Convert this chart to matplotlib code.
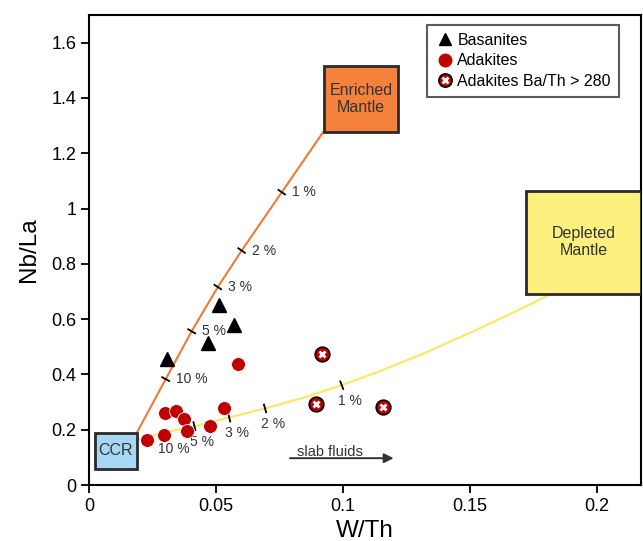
import matplotlib
matplotlib.use("Agg")
import matplotlib.pyplot as plt
from matplotlib.patches import Rectangle
from matplotlib.lines import Line2D
import numpy as np

plt.rcParams['font.family'] = ['Liberation Sans', 'DejaVu Sans']

# Data
bas_x = [0.0308, 0.0513, 0.0571, 0.0467]
bas_y = [0.455, 0.650, 0.578, 0.515]

ada_x = [0.0588, 0.0299, 0.0341, 0.0375, 0.0385, 0.0476, 0.0533, 0.0297, 0.0227]
ada_y = [0.437, 0.261, 0.267, 0.237, 0.197, 0.215, 0.279, 0.180, 0.162]

adx_x = [0.0916, 0.0894, 0.1159]
adx_y = [0.475, 0.292, 0.283]

# Mixing curves
enr_x = [0.019, 0.0302, 0.0404, 0.0507, 0.0601, 0.0759, 0.0923]
enr_y = [0.192, 0.383, 0.556, 0.716, 0.848, 1.059, 1.278]
enr_tick_x = [0.0302, 0.0404, 0.0507, 0.0601, 0.0759]
enr_tick_y = [0.383, 0.556, 0.716, 0.848, 1.059]
enr_labels = ['10 %', '5 %', '3 %', '2 %', '1 %']

dep_x = [0.019, 0.0297, 0.0415, 0.0552, 0.0693, 0.0845, 0.0995, 0.1146, 0.1316, 0.1513, 0.1684, 0.1828]
dep_y = [0.165, 0.190, 0.213, 0.244, 0.277, 0.316, 0.361, 0.412, 0.475, 0.556, 0.630, 0.695]
dep_tick_x = [0.0415, 0.0552, 0.0693, 0.0995]
dep_tick_y = [0.213, 0.244, 0.277, 0.361]
dep_lab_x = [0.0273, 0.0398, 0.0535, 0.0677, 0.0982]
dep_lab_y = [0.130, 0.156, 0.187, 0.220, 0.304]
dep_labels = ['10 %', '5 %', '3 %', '2 %', '1 %']

xticks = [0, 0.05, 0.1, 0.15, 0.2]
xticklabels = ['0', '0.05', '0.1', '0.15', '0.2']
yticks = [0, 0.2, 0.4, 0.6, 0.8, 1.0, 1.2, 1.4, 1.6]
yticklabels = ['0', '0.2', '0.4', '0.6', '0.8', '1', '1.2', '1.4', '1.6']

fig = plt.figure(figsize=(6.43, 5.41), dpi=100)
ax = fig.add_axes([0.1384, 0.1035, 0.8585, 0.8688])
ax.set_xlim(0, 0.2173)
ax.set_ylim(0, 1.70)

# curves
ax.plot(enr_x, enr_y, color='#f07a32', lw=1.5, zorder=2)
ax.plot(dep_x, dep_y, color='#fbe86a', lw=1.6, zorder=2)

def draw_ticks(xs, ys, cx, cy):
    cx = np.array(cx); cy = np.array(cy)
    p = ax.transData.transform(np.column_stack([cx, cy]))
    for x, y in zip(xs, ys):
        q = ax.transData.transform((x, y))
        i = int(np.argmin(np.abs(cx - x)))
        j = min(i + 1, len(cx) - 1)
        k = max(j - 1, 0)
        d = p[j] - p[k]
        d = d / np.hypot(*d)
        n = np.array([-d[1], d[0]]) * 4
        a = ax.transData.inverted().transform([q - n, q + n])
        ax.plot(a[:, 0], a[:, 1], color='black', lw=1.3, zorder=3)

draw_ticks(enr_tick_x, enr_tick_y, enr_x, enr_y)
draw_ticks(dep_tick_x, dep_tick_y, dep_x, dep_y)

for x, y, s in zip(enr_tick_x, enr_tick_y, enr_labels):
    ax.text(x + 0.0039, y, s, fontsize=10, color='#333333', va='center', ha='left')
for x, y, s in zip(dep_lab_x, dep_lab_y, dep_labels):
    ax.text(x, y, s, fontsize=10, color='#333333', va='center', ha='left')

# boxes
boxes = [
    (0.0024, 0.057, 0.0164, 0.132, '#a6d8f5', 'CCR', 11.5),
    (0.0925, 1.275, 0.0293, 0.241, '#f4823c', 'Enriched\nMantle', 11.5),
    (0.1720, 0.692, 0.0452, 0.373, '#fdf07e', 'Depleted\nMantle', 11.5),
]
for x0, y0, w, h, c, t, fs in boxes:
    ax.add_patch(Rectangle((x0, y0), w, h, facecolor=c, edgecolor='#2a2a2a', lw=2, zorder=4))
    ax.text(x0 + w / 2, y0 + h / 2, t, ha='center', va='center', fontsize=fs,
            color='#333333', zorder=5, linespacing=1.15)

# data
ax.plot(bas_x, bas_y, linestyle='none', marker='^', ms=10, color='black', zorder=6)
ax.plot(ada_x, ada_y, linestyle='none', marker='o', ms=10, mfc='#c00000',
        mec='white', mew=0.6, zorder=6)
ax.plot(adx_x, adx_y, linestyle='none', marker='o', ms=10.5, mfc='#c00000',
        mec='black', mew=1.2, zorder=6)
ax.plot(adx_x, adx_y, linestyle='none', marker='x', ms=5, mec='white', mew=2, zorder=7)

# arrow
ax.annotate('', xy=(0.121, 0.097), xytext=(0.078, 0.097),
            arrowprops=dict(arrowstyle='-|>', color='#333333', lw=1.4, mutation_scale=14))
ax.text(0.095, 0.120, 'slab fluids', ha='center', va='center', fontsize=10.5, color='#333333')

ax.set_xticks(xticks)
ax.set_xticklabels(xticklabels)
ax.set_yticks(yticks)
ax.set_yticklabels(yticklabels)
ax.tick_params(direction='out', length=6, width=1.3, labelsize=13, colors='black', pad=3)
for s in ax.spines.values():
    s.set_linewidth(1.5)
ax.set_xlabel('W/Th', fontsize=17.5, labelpad=4)
ax.set_ylabel('Nb/La', fontsize=17.5, labelpad=8)

# legend
h1 = Line2D([], [], linestyle='none', marker='^', ms=9, color='black')
h2 = Line2D([], [], linestyle='none', marker='o', ms=9, mfc='#c00000', mec='#c00000')
h3a = Line2D([], [], linestyle='none', marker='o', ms=9.5, mfc='#c00000', mec='black', mew=1.2)
h3b = Line2D([], [], linestyle='none', marker='x', ms=4.5, mec='white', mew=2)
leg = ax.legend([h1, h2, (h3a, h3b)], ['Basanites', 'Adakites', 'Adakites Ba/Th > 280'],
                loc='upper right', bbox_to_anchor=(0.960, 0.979), borderaxespad=0,
                fontsize=11.5, frameon=True, fancybox=False, edgecolor='#333333',
                handletextpad=0.2, handlelength=1.2, borderpad=0.5, labelspacing=0.35)
leg.get_frame().set_linewidth(1.5)

fig.savefig('out.png', dpi=100)
